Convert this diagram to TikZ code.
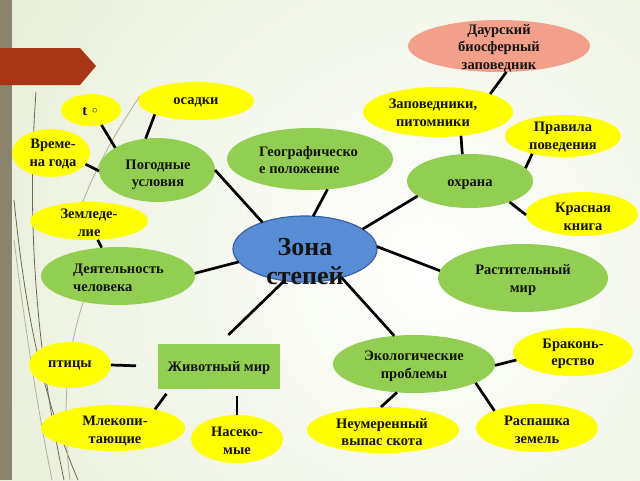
\documentclass[tikz,border=0pt]{standalone}
\usepackage{fontspec}
\setmainfont{Liberation Serif}
\usetikzlibrary{shapes.geometric}
\definecolor{bgouter}{RGB}{220,230,196}
\definecolor{strip}{RGB}{138,132,106}
\definecolor{banner}{RGB}{168,54,22}
\definecolor{yel}{RGB}{255,255,0}
\definecolor{grn}{RGB}{146,206,82}
\definecolor{sal}{RGB}{243,160,138}
\definecolor{blu}{RGB}{88,140,212}
\definecolor{bluline}{RGB}{58,98,160}
\definecolor{grass}{RGB}{110,104,82}
\definecolor{grasslt}{RGB}{178,176,150}
\definecolor{ink}{RGB}{20,20,20}
\tikzset{
  bub/.style={ellipse, inner sep=0pt, outer sep=0pt},
  txt/.style={font=\bfseries\fontsize{14.5}{17.5}\selectfont, align=center, inner sep=0pt, text=ink},
  link/.style={line width=2.7pt, black},
  grassline/.style={grass, line width=0.8pt},
  grasslight/.style={grasslt, line width=0.8pt}
}
\begin{document}
\begin{tikzpicture}[x=1pt,y=-1pt]
\useasboundingbox (0,0) rectangle (640,480);
% background
\begin{scope}
\clip (0,0) rectangle (640,480);
\fill[bgouter] (0,0) rectangle (640,480);
\shade[inner color=white, outer color=bgouter] (430,270) circle (760);
\end{scope}
\fill[strip] (0,0) rectangle (12,480);
% grass strokes
\draw[grassline] (36,92) .. controls (28,200) and (32,330) .. (64,480);
\draw[grassline] (14,200) .. controls (26,320) and (44,400) .. (78,480);
\draw[grasslight] (14,240) .. controls (28,350) and (40,420) .. (52,480);
\draw[grasslight] (140,96) .. controls (110,140) and (90,180) .. (78,215);
\draw[grasslight] (84,300) .. controls (70,340) and (60,400) .. (70,480);
\fill[banner] (0,48) -- (80,48) -- (96,66) -- (80,85) -- (0,85) -- cycle;

% bubbles
\node[bub, fill=sal, minimum width=182pt, minimum height=52pt] (daur) at (499,46) {};
\node[bub, fill=yel, minimum width=150pt, minimum height=50pt] (zap) at (438,112) {};
\node[bub, fill=yel, minimum width=116pt, minimum height=42pt] (prav) at (563,136) {};
\node[bub, fill=grn, minimum width=126pt, minimum height=54pt] (ohr) at (470,181) {};
\node[bub, fill=yel, minimum width=112pt, minimum height=44pt] (krasn) at (582,214) {};
\node[bub, fill=grn, minimum width=166pt, minimum height=62pt] (geo) at (310,159) {};
\node[bub, fill=yel, minimum width=116pt, minimum height=38pt] (osad) at (196,101) {};
\node[bub, fill=yel, minimum width=60pt, minimum height=32pt] (temp) at (91,110) {};
\node[bub, fill=yel, minimum width=78pt, minimum height=48pt] (vrem) at (51,153) {};
\node[bub, fill=grn, minimum width=116pt, minimum height=64pt] (pog) at (157,170) {};
\node[bub, fill=yel, minimum width=118pt, minimum height=38pt] (zeml) at (89,221) {};
\node[bub, fill=blu, draw=bluline, line width=1.2pt, minimum width=144pt, minimum height=66pt] (zona) at (305,249) {};
\node[bub, fill=grn, minimum width=154pt, minimum height=58pt] (deyat) at (118,276) {};
\node[bub, fill=grn, minimum width=170pt, minimum height=68pt] (rast) at (523,278) {};
\node[bub, fill=yel, minimum width=82pt, minimum height=46pt] (ptic) at (70,365) {};
\node[rectangle, fill=grn, inner sep=0pt, outer sep=0pt, minimum width=122pt, minimum height=45pt] (zhiv) at (219,366.5) {};
\node[bub, fill=grn, minimum width=162pt, minimum height=58pt] (ekol) at (414,364) {};
\node[bub, fill=yel, minimum width=120pt, minimum height=48pt] (brak) at (573,352) {};
\node[bub, fill=yel, minimum width=144pt, minimum height=46pt] (mlek) at (113,428) {};
\node[bub, fill=yel, minimum width=92pt, minimum height=48pt] (nas) at (237,439) {};
\node[bub, fill=yel, minimum width=152pt, minimum height=46pt] (neum) at (383,430) {};
\node[bub, fill=yel, minimum width=122pt, minimum height=48pt] (rasp) at (537,428) {};

% texts
\node[txt] (daurT) at (499,48) {Даурский\\биосферный\\заповедник};
\node[txt] (zapT) at (433,113) {Заповедники,\\питомники};
\node[txt] (pravT) at (563,137) {Правила\\поведения};
\node[txt] (ohrT) at (470,185) {охрана};
\node[txt] (krasnT) at (583,217) {Красная\\книга};
\node[txt, align=left, anchor=west] (geoT) at (259,160) {Географическо\\е положение};
\node[txt] (osadT) at (196,102) {осадки};
\node[txt] (tempT) at (90,111) {t\,\,\raisebox{1.5pt}{\fontsize{11}{11}\selectfont$\circ$}};
\node[txt] (vremT) at (53,154) {Време-\\на года};
\node[txt] (pogT) at (158,175) {Погодные\\условия};
\node[txt] (zemlT) at (89,223) {Земледе-\\лие};
\node[txt, font=\bfseries\fontsize{26}{29}\selectfont] (zonaT) at (305,262) {Зона\\степей};
\node[txt, align=left, anchor=west] (deyatT) at (73,278) {Деятельность\\человека};
\node[txt] (rastT) at (523,280) {Растительный\\мир};
\node[txt] (pticT) at (70,365) {птицы};
\node[txt] (zhivT) at (219,368) {Животный мир};
\node[txt] (ekolT) at (414,366) {Экологические\\проблемы};
\node[txt] (brakT) at (573,354) {Браконь-\\ерство};
\node[txt] (mlekT) at (115,431) {Млекопи-\\тающие};
\node[txt] (nasT) at (237,441) {Насеко-\\мые};
\node[txt] (neumT) at (382,432) {Неумеренный\\выпас скота};
\node[txt] (raspT) at (537,430) {Распашка\\земель};

% connectors
\draw[link] (daur.-74) -- (zap.19);
\draw[link] (zap.-46) -- (ohr.106);
\draw[link] (prav.210) -- (ohr.13);
\draw[link] (ohr.-28) -- (krasn.181);
\draw[link] (ohr.196) -- (zona.19);
\draw[link] (geo.-60) -- (zona.76);
\draw[link] (pog.0) -- (zona.148);
\draw[link] (osad.198) -- (pog.110);
\draw[link] (temp.-55) -- (pog.152);
\draw[link] (vrem.-18) -- (pog.181);
\draw[link] (zeml.-65) -- (deyat.120);
\draw[link] (deyat.2) -- (zona.191);
\draw[link] (zona.2) -- (rast.175);
\draw[link, shorten >=13pt] (zona.237) -- (zhiv.north);
\draw[link] (zona.-38) -- (ekol.125);
\draw[link, shorten >=22pt] (ptic.0) -- (zhiv.west);
\draw[link, shorten <=6pt] ([xshift=12pt]zhiv.south west) -- (mlek.24);
\draw[link, shorten <=7pt] ([xshift=18pt]zhiv.south) -- (nas.north);
\draw[link] (ekol.-1) -- (brak.188);
\draw[link] (ekol.239) -- (neum.95);
\draw[link] (ekol.-17) -- (rasp.158);
\end{tikzpicture}
\end{document}
